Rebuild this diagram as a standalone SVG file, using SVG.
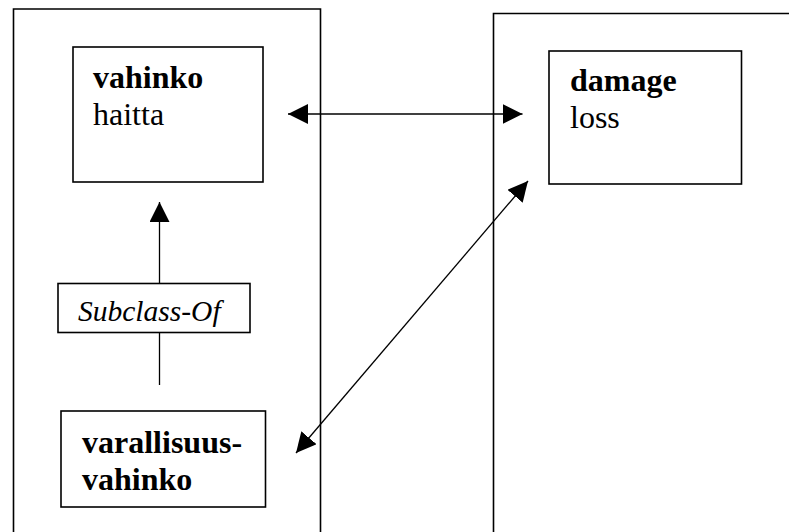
<svg xmlns="http://www.w3.org/2000/svg" width="789" height="532" viewBox="0 0 789 532">
<style>
.frame{fill:none;stroke:#000;stroke-width:1.6}
.box{fill:#fff;stroke:#000;stroke-width:1.6}
.conn{fill:none;stroke:#000;stroke-width:1.3}
text{font-family:'Liberation Serif','Times New Roman','DejaVu Serif',serif;font-size:32px;fill:#000}
.b{font-weight:bold}
.i{font-style:italic;font-size:29.5px}
</style>
<defs>
<marker id="ah" viewBox="0 0 20 20" refX="20" refY="10" markerWidth="20" markerHeight="20" markerUnits="userSpaceOnUse" orient="auto-start-reverse">
<path d="M0,0 L20,10 L0,20 Z" fill="#000"/>
</marker>
</defs>
<rect width="789" height="532" fill="#fff"/>
<g id="frame-fi"><polyline class="frame" points="13.5,532 13.5,9 320.5,9 320.5,532"/></g>
<g id="frame-en"><polyline class="frame" points="493.5,532 493.5,13.5 789,13.5"/></g>
<g id="connectors">
<line class="conn" x1="288" y1="114" x2="522.5" y2="114" marker-start="url(#ah)" marker-end="url(#ah)"/>
<line class="conn" x1="159.5" y1="385" x2="159.5" y2="202" marker-end="url(#ah)"/>
<line class="conn" x1="296" y1="453" x2="528" y2="181" marker-start="url(#ah)" marker-end="url(#ah)"/>
</g>
<g id="vahinko">
<rect class="box" x="73" y="47" width="190" height="135"/>
<text x="93" y="88" class="b" font-family="Liberation Serif, serif">vahinko</text>
<text x="93" y="125" font-family="Liberation Serif, serif">haitta</text>
</g>
<g id="subclass-of">
<rect class="box" x="58" y="283.5" width="192" height="49"/>
<text x="78" y="321" class="i" font-family="Liberation Serif, serif">Subclass-Of</text>
</g>
<g id="varallisuusvahinko">
<rect class="box" x="61" y="411" width="204.5" height="96"/>
<text x="82" y="453" class="b" font-family="Liberation Serif, serif">varallisuus-</text>
<text x="82" y="490" class="b" font-family="Liberation Serif, serif">vahinko</text>
</g>
<g id="damage">
<rect class="box" x="549" y="51" width="192.5" height="133"/>
<text x="570" y="91" class="b" font-family="Liberation Serif, serif">damage</text>
<text x="570" y="128" font-family="Liberation Serif, serif">loss</text>
</g>
</svg>
